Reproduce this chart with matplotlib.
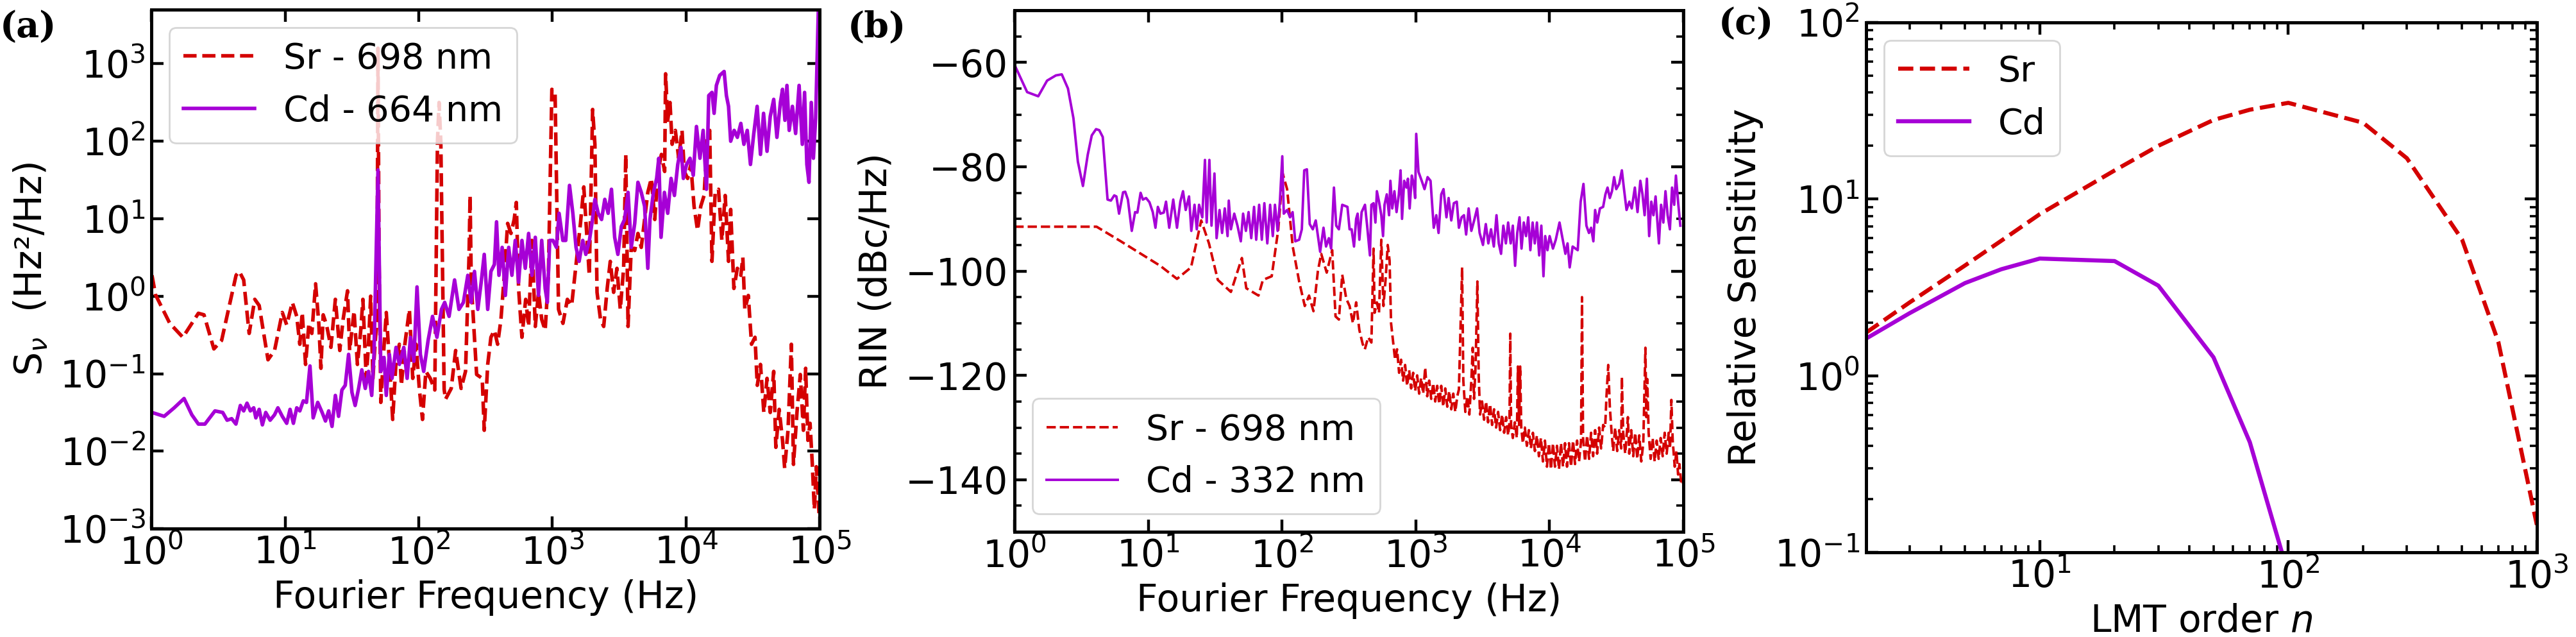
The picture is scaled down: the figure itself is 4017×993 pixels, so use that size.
import numpy as np
import matplotlib
matplotlib.use('Agg')
import matplotlib.pyplot as plt
from matplotlib.ticker import MultipleLocator, NullLocator, LogLocator

# ---------------- data ----------------
# (a) frequency noise PSD, stored as log10(f) and log10(S)
sr_a_logf = [0.004, 0.03, 0.137, 0.235, 0.351, 0.393, 0.467, 0.525, 0.633, 0.657, 0.69, 0.731,
             0.773, 0.806, 0.872, 0.921, 0.979, 1.012, 1.054, 1.087, 1.11, 1.128, 1.153, 1.178,
             1.2, 1.228, 1.252, 1.268, 1.285, 1.31, 1.343, 1.376, 1.409, 1.434, 1.467, 1.483,
             1.516, 1.541, 1.566, 1.582, 1.607, 1.624, 1.64, 1.657, 1.673, 1.687, 1.695, 1.703,
             1.716, 1.741, 1.757, 1.78, 1.805, 1.83, 1.855, 1.87, 1.896, 1.93, 1.955, 1.98,
             2.004, 2.028, 2.053, 2.086, 2.12, 2.14, 2.152, 2.165, 2.19, 2.2, 2.243, 2.276,
             2.317, 2.35, 2.376, 2.384, 2.392, 2.4, 2.433, 2.475, 2.49, 2.516, 2.54, 2.566,
             2.59, 2.615, 2.64, 2.665, 2.69, 2.714, 2.73, 2.747, 2.772, 2.8, 2.822, 2.847,
             2.872, 2.896, 2.92, 2.946, 2.97, 2.996, 3.02, 3.046, 3.079, 3.112, 3.144, 3.177,
             3.21, 3.235, 3.26, 3.276, 3.301, 3.318, 3.334, 3.36, 3.384, 3.41, 3.433, 3.458,
             3.483, 3.508, 3.533, 3.549, 3.566, 3.59, 3.616, 3.64, 3.665, 3.69, 3.714, 3.74,
             3.766, 3.79, 3.816, 3.84, 3.847, 3.863, 3.88, 3.896, 3.92, 3.945, 3.97, 3.987,
             4.012, 4.036, 4.06, 4.086, 4.11, 4.135, 4.16, 4.177, 4.194, 4.218, 4.243, 4.268,
             4.293, 4.318, 4.334, 4.358, 4.384, 4.41, 4.425, 4.44, 4.466, 4.49, 4.516, 4.533,
             4.557, 4.582, 4.606, 4.63, 4.656, 4.672, 4.697, 4.722, 4.738, 4.763, 4.788, 4.804,
             4.83, 4.855, 4.878, 4.895, 4.912, 4.928, 4.945, 4.96, 4.975, 4.995]
sr_a_logS = [0.27, 0.02, -0.35, -0.53, -0.22, -0.24, -0.68, -0.57, 0.27, 0.32, 0.21, -0.48,
             -0.04, -0.12, -0.82, -0.70, -0.21, -0.37, -0.08, -0.26, -0.62, -0.21, -0.88, -0.35,
             -0.48, 0.16, -0.35, -0.93, -0.24, -0.37, -0.66, -0.04, -0.70, -0.30, 0.07, -0.70,
             -0.19, -0.88, -0.44, -0.04, -1.06, -0.62, 0.0, -1.06, -0.62, -0.3, 3.2, 0.5,
             -1.37, -0.62, -0.21, -0.84, -1.59, -0.84, -0.62, -1.15, -0.62, -0.17, -1.06, -0.62,
             -1.19, -1.59, -0.97, -1.06, -1.21, 2.0, 2.5, 2.0, -1.2, -1.33, -1.19, -0.70,
             -1.19, -0.97, 0.5, 1.30, 0.3, -0.04, -1.01, -1.06, -1.73, -0.88, -0.53, -0.44,
             -0.62, -0.30, 0.27, 0.94, 0.81, 0.99, 1.21, 0.10, -0.53, -0.04, -0.39, 0.72,
             -0.39, 0.05, -0.30, -0.44, 0.27, 2.67, 2.63, -0.17, -0.35, -0.04, -0.12, 0.41,
             0.94, 1.41, 0.72, 0.27, 2.41, 1.96, 0.05, -0.30, -0.39, 0.10, 0.45, 0.05,
             0.36, -0.17, 0.36, 1.83, -0.39, 0.63, 0.59, 0.81, 0.63, 0.99, 1.34, 1.52,
             0.99, 1.61, 1.83, 1.61, 2.87, 2.27, 2.5, 1.96, 2.14, 1.78, 2.14, 1.61,
             1.52, 1.70, 1.16, 0.85, 1.16, 1.30, 2.05, 2.14, 0.45, 1.34, 1.38, 0.72,
             1.30, 0.45, 1.12, 0.10, 0.36, 0.27, 0.50, -0.17, 0.01, -0.62, -0.53, -1.15,
             -0.88, -1.5, -1.06, -1.5, -0.97, -1.95, -1.46, -1.86, -2.22, -1.73, -0.62, -2.17,
             -1.5, -1.01, -1.73, -0.93, -1.86, -1.64, -2.17, -2.75, -2.2, -2.8]

cd_a_logf = [0.004, 0.095, 0.17, 0.244, 0.302, 0.351, 0.4, 0.475, 0.533, 0.566, 0.6, 0.632,
             0.665, 0.69, 0.715, 0.74, 0.765, 0.781, 0.806, 0.83, 0.855, 0.888, 0.921, 0.946,
             0.979, 1.012, 1.037, 1.062, 1.087, 1.11, 1.136, 1.16, 1.186, 1.21, 1.244, 1.277,
             1.302, 1.326, 1.351, 1.376, 1.4, 1.425, 1.45, 1.475, 1.5, 1.524, 1.55, 1.574,
             1.6, 1.624, 1.648, 1.665, 1.695, 1.716, 1.74, 1.757, 1.78, 1.8, 1.83, 1.855,
             1.888, 1.913, 1.938, 1.963, 1.987, 2.012, 2.037, 2.07, 2.103, 2.136, 2.17, 2.194,
             2.227, 2.268, 2.301, 2.334, 2.367, 2.392, 2.417, 2.442, 2.467, 2.49, 2.516, 2.54,
             2.566, 2.582, 2.6, 2.624, 2.648, 2.673, 2.697, 2.722, 2.747, 2.772, 2.797, 2.822,
             2.847, 2.872, 2.896, 2.92, 2.946, 2.962, 2.98, 3.004, 3.03, 3.05, 3.078, 3.1,
             3.128, 3.153, 3.177, 3.2, 3.227, 3.25, 3.277, 3.3, 3.318, 3.343, 3.368, 3.392,
             3.417, 3.442, 3.466, 3.49, 3.516, 3.54, 3.566, 3.59, 3.616, 3.64, 3.665, 3.69,
             3.714, 3.73, 3.756, 3.78, 3.796, 3.813, 3.838, 3.863, 3.888, 3.913, 3.938, 3.962,
             3.98, 4.004, 4.03, 4.054, 4.078, 4.104, 4.128, 4.153, 4.17, 4.194, 4.21, 4.227,
             4.252, 4.285, 4.302, 4.318, 4.334, 4.36, 4.384, 4.41, 4.433, 4.458, 4.482, 4.507,
             4.532, 4.557, 4.58, 4.606, 4.63, 4.656, 4.68, 4.706, 4.722, 4.74, 4.755, 4.772,
             4.796, 4.82, 4.846, 4.87, 4.887, 4.904, 4.92, 4.937, 4.953, 4.97, 4.99]
cd_a_logS = [-1.50, -1.55, -1.44, -1.32, -1.53, -1.65, -1.65, -1.48, -1.50, -1.60, -1.58, -1.65,
             -1.41, -1.48, -1.38, -1.48, -1.44, -1.57, -1.46, -1.66, -1.50, -1.60, -1.53, -1.44,
             -1.55, -1.64, -1.46, -1.64, -1.44, -1.48, -1.35, -1.37, -0.90, -1.57, -1.37, -1.50,
             -1.61, -1.48, -1.68, -1.28, -1.55, -1.21, -1.15, -0.75, -1.24, -1.41, -1.19, -0.95,
             -1.19, -0.97, -1.28, -0.75, 1.63, -0.97, -0.79, -1.28, -0.75, -1.06, -0.66, -0.88,
             -0.66, -1.06, -0.53, -0.84, 0.12, -0.75, -0.97, -0.57, -0.26, -0.53, -0.17, -0.08,
             -0.26, 0.21, -0.17, -0.08, 0.27, -0.08, 0.32, -0.17, 0.18, 0.54, -0.17, 0.32,
             0.41, 0.96, 0.27, 0.63, 0.01, 0.63, 0.27, 0.72, 0.18, 0.72, 0.36, 0.81,
             0.27, 0.76, 0.01, 0.72, 0.10, -0.08, 0.72, 0.72, 0.63, 1.07, 0.72, 0.72,
             1.43, 1.07, 0.63, 0.45, 0.72, 0.54, 0.72, 0.99, 1.25, 1.07, 0.99, 1.25,
             1.07, 1.38, 0.76, 0.54, 0.90, 0.99, 1.34, 0.63, 0.94, 1.47, 1.34, 1.16,
             0.36, 0.99, 1.34, 1.52, 1.78, 0.76, 1.34, 1.07, 1.52, 1.30, 1.70, 1.92,
             1.52, 1.70, 1.78, 1.56, 2.19, 1.78, 2.14, 1.38, 2.59, 2.63, 2.36, 2.72,
             2.85, 2.9, 2.59, 2.45, 2.0, 2.14, 2.05, 2.23, 1.96, 2.14, 1.70, 2.10,
             2.45, 1.83, 2.36, 1.87, 2.32, 2.54, 2.05, 2.50, 2.67, 2.27, 2.72, 2.14,
             2.45, 2.10, 2.72, 1.96, 2.63, 1.70, 1.47, 2.50, 1.78, 2.3, 3.7]

# (b) relative intensity noise, log10(f) and RIN in dBc/Hz
sr_b_logf = [0.0, 0.614, 0.795, 1.09, 1.215, 1.32, 1.396, 1.454, 1.52, 1.618, 1.7, 1.733,
             1.824, 1.857, 1.923, 1.972, 2.005, 2.038, 2.08, 2.128, 2.17, 2.202, 2.235, 2.268,
             2.293, 2.334, 2.375, 2.4, 2.425, 2.45, 2.48, 2.505, 2.53, 2.554, 2.578, 2.603,
             2.619, 2.644, 2.668, 2.684, 2.692, 2.709, 2.725, 2.742, 2.758, 2.775, 2.79, 2.804,
             2.815, 2.83, 2.845, 2.86, 2.875, 2.89, 2.905, 2.92, 2.935, 2.95, 2.965, 2.98,
             2.995, 3.01, 3.025, 3.04, 3.055, 3.07, 3.085, 3.1, 3.115, 3.13, 3.145, 3.16,
             3.175, 3.19, 3.205, 3.22, 3.235, 3.25, 3.265, 3.28, 3.295, 3.31, 3.322, 3.346,
             3.355, 3.37, 3.385, 3.4, 3.415, 3.425, 3.435, 3.447, 3.46, 3.47, 3.48, 3.495,
             3.51, 3.525, 3.54, 3.555, 3.57, 3.585, 3.6, 3.615, 3.63, 3.645, 3.66, 3.675,
             3.69, 3.7, 3.706, 3.712, 3.725, 3.74, 3.755, 3.763, 3.772, 3.78, 3.788, 3.8,
             3.815, 3.83, 3.845, 3.86, 3.875, 3.89, 3.905, 3.92, 3.935, 3.95, 3.965, 3.98,
             3.995, 4.01, 4.025, 4.04, 4.055, 4.07, 4.085, 4.1, 4.115, 4.13, 4.145, 4.16,
             4.175, 4.19, 4.205, 4.22, 4.235, 4.242, 4.25, 4.265, 4.28, 4.295, 4.31, 4.325,
             4.34, 4.355, 4.37, 4.385, 4.4, 4.415, 4.425, 4.438, 4.45, 4.462, 4.475, 4.49,
             4.505, 4.52, 4.535, 4.54, 4.55, 4.565, 4.58, 4.585, 4.595, 4.61, 4.625, 4.64,
             4.655, 4.67, 4.685, 4.7, 4.716, 4.723, 4.73, 4.74, 4.755, 4.77, 4.785, 4.8,
             4.815, 4.83, 4.845, 4.86, 4.875, 4.89, 4.9, 4.91, 4.92, 4.935, 4.948, 4.96,
             4.97, 4.985, 5.0]
sr_b_rin = [-91.5, -91.5, -94.3, -99, -101.5, -99.3, -90.3, -94.7, -101.7, -104, -97.5, -103.3,
            -104.7, -101.7, -101, -92, -81.3, -84.3, -95.3, -102, -106.7, -104.7, -107.7, -100,
            -96.7, -100.3, -96, -108.7, -109.3, -100.7, -105.3, -106.7, -110, -106, -111.3, -114,
            -115, -112.7, -113.7, -95.7, -108, -106, -108, -94, -106.7, -101.3, -95, -98,
            -110, -113.5, -117.0, -115.0, -119.5, -117.0, -121.0, -118.0, -122.0, -119.0, -122.5, -119.5,
            -123.0, -120.0, -123.5, -120.5, -123.5, -118.5, -124.0, -121.0, -124.5, -121.5, -125.0, -122.0,
            -125.5, -122.0, -126.0, -122.5, -126.0, -123.0, -126.5, -123.5, -127.0, -124.0, -122.7, -99.3,
            -121.0, -127.0, -124.0, -127.5, -121.0, -114.7, -124.5, -118, -102.0, -120, -127.5, -125.0,
            -128.5, -125.0, -129.0, -125.5, -129.5, -126.5, -130.0, -127.0, -130.5, -127.5, -131.0, -128.0,
            -131.5, -129.0, -112.0, -129.5, -132.0, -129.0, -132.0, -118.3, -129.5, -118.3, -130, -133.0,
            -130.0, -133.5, -130.5, -134.0, -131.0, -134.5, -131.5, -135.5, -132.0, -136.5, -132.5, -137.5,
            -133.0, -138.0, -133.0, -137.5, -133.5, -138.0, -133.0, -137.5, -133.0, -137.5, -133.0, -137.5,
            -132.5, -137.0, -132.5, -136.5, -132.5, -105.0, -132.0, -136.5, -131.5, -136.0, -131.0, -135.5,
            -130.5, -135.0, -130.0, -134.0, -129.5, -130.0, -124.0, -118.0, -126.0, -130.5, -134.5, -130.0,
            -134.5, -130.5, -134.0, -120.3, -131.0, -135.0, -130.0, -128.0, -135.0, -130.5, -135.5, -131.0,
            -136.0, -131.5, -136.5, -133.0, -114.7, -128, -120.7, -131.0, -136.0, -132.0, -136.5, -132.5,
            -136.0, -132.0, -135.5, -131.0, -135.0, -131.0, -134.0, -124.7, -132.5, -137.5, -134.5, -139.0,
            -137.0, -141.0, -140.5]

cd_b_logf = [0.005, 0.095, 0.178, 0.244, 0.31, 0.354, 0.4, 0.441, 0.474, 0.512, 0.548, 0.578,
             0.61, 0.634, 0.66, 0.696, 0.721, 0.746, 0.762, 0.782, 0.812, 0.828, 0.848, 0.877,
             0.902, 0.919, 0.943, 0.96, 0.984, 1.009, 1.034, 1.054, 1.072, 1.091, 1.116, 1.133,
             1.157, 1.187, 1.215, 1.24, 1.26, 1.28, 1.305, 1.322, 1.346, 1.363, 1.38, 1.404,
             1.424, 1.437, 1.457, 1.473, 1.495, 1.511, 1.533, 1.552, 1.572, 1.593, 1.602, 1.618,
             1.643, 1.667, 1.692, 1.709, 1.73, 1.75, 1.77, 1.791, 1.807, 1.829, 1.849, 1.868,
             1.89, 1.911, 1.931, 1.947, 1.967, 1.984, 2.002, 2.013, 2.038, 2.06, 2.079, 2.099,
             2.128, 2.148, 2.166, 2.186, 2.207, 2.23, 2.252, 2.285, 2.31, 2.329, 2.35, 2.367,
             2.388, 2.405, 2.425, 2.45, 2.489, 2.505, 2.52, 2.538, 2.554, 2.565, 2.578, 2.595,
             2.62, 2.636, 2.657, 2.668, 2.684, 2.698, 2.709, 2.725, 2.742, 2.755, 2.766, 2.783,
             2.8, 2.81, 2.824, 2.84, 2.856, 2.873, 2.886, 2.897, 2.913, 2.93, 2.941, 2.954,
             2.97, 2.984, 2.995, 3.003, 3.02, 3.044, 3.065, 3.088, 3.11, 3.134, 3.153, 3.17,
             3.19, 3.207, 3.229, 3.245, 3.265, 3.284, 3.306, 3.322, 3.342, 3.36, 3.376, 3.395,
             3.415, 3.436, 3.458, 3.477, 3.502, 3.523, 3.542, 3.562, 3.583, 3.603, 3.62, 3.637,
             3.654, 3.673, 3.69, 3.709, 3.725, 3.742, 3.758, 3.775, 3.79, 3.807, 3.824, 3.84,
             3.856, 3.873, 3.889, 3.905, 3.922, 3.938, 3.954, 3.967, 3.984, 4.0, 4.025, 4.046,
             4.074, 4.098, 4.118, 4.134, 4.15, 4.172, 4.21, 4.232, 4.253, 4.275, 4.294, 4.31,
             4.327, 4.34, 4.356, 4.376, 4.4, 4.417, 4.433, 4.45, 4.466, 4.482, 4.498, 4.52,
             4.54, 4.556, 4.575, 4.596, 4.614, 4.637, 4.657, 4.678, 4.694, 4.71, 4.727, 4.744,
             4.76, 4.776, 4.792, 4.817, 4.833, 4.85, 4.866, 4.882, 4.899, 4.915, 4.931, 4.944,
             4.96, 4.977]
cd_b_rin = [-60.7, -65.7, -66.5, -63.5, -62.5, -62.3, -65, -70.7, -79, -83.7, -77.7, -74,
            -72.8, -73, -74.3, -86.3, -86.5, -85.5, -85.7, -89, -84.9, -84.8, -86.3, -92.3,
            -88.7, -88.8, -85, -86.3, -86, -86.8, -88.7, -91.7, -87.7, -89, -88.8, -86.7,
            -91.7, -86.3, -91.7, -86.7, -84.7, -88.3, -85.7, -92.3, -87.3, -92, -87.3, -89.7,
            -78.7, -90.7, -78.7, -91.3, -81.3, -93.7, -88.3, -92.7, -88, -93.3, -86.5, -92,
            -89, -91.3, -94.3, -89, -92.3, -88.7, -93.7, -87.7, -94, -87.3, -94, -87,
            -94.7, -87.3, -93.3, -87.3, -92.3, -86.7, -78, -89, -88.3, -89.7, -88.7, -94.3,
            -94, -92, -80.7, -80.5, -91, -92, -90.3, -96.3, -91.7, -95.3, -93.7, -95.7,
            -84, -91.3, -92, -87.3, -87.7, -92, -92, -95.3, -90, -89, -94, -88.7,
            -87.3, -91.3, -97, -87.3, -87, -90.7, -84.7, -86.7, -89.3, -93.3, -87.3, -85.3,
            -89.3, -82.7, -88, -84.7, -88.7, -85.3, -80.7, -90, -82.7, -84, -82.3, -88,
            -81.7, -83.3, -86, -73.7, -81, -82.7, -84.3, -82, -82.7, -91.7, -89.3, -92.7,
            -85.3, -84.3, -89.7, -86, -90.3, -87, -86.7, -91.7, -89.7, -89.3, -93, -88,
            -92.3, -90.3, -88, -92.7, -95, -91, -94.7, -92, -95.3, -89.3, -94.7, -96.7,
            -91.3, -94.7, -90.7, -94.7, -91.3, -99, -92.7, -89.7, -95.7, -90.7, -93.3, -89.7,
            -96, -90.7, -94.7, -90.7, -97, -91.3, -101, -93.3, -96, -93.3, -95.7, -94,
            -90.7, -94, -96.7, -94.7, -99.3, -95.3, -96, -86.7, -83.3, -91.3, -92.7, -91.7,
            -94.3, -88.3, -90.7, -88, -87.7, -85.3, -84, -86, -84.7, -82, -84.3, -83.3,
            -80.7, -84.3, -88.3, -86.7, -88, -84, -88.7, -82.7, -85.3, -89.3, -82.3, -93.3,
            -86.7, -89.3, -85.7, -94.7, -87.3, -90.7, -84.7, -89.3, -92, -84, -87.3, -81.7,
            -86.7, -91.3]

# (c) relative sensitivity vs LMT order
lmt_n_sr = [2, 3, 5, 7, 10, 20, 30, 50, 70, 100, 200, 300, 500, 700, 1000]
sens_sr = [1.75, 2.6, 4.2, 5.8, 8.2, 14.5, 20, 28, 32, 35, 27, 17, 5.9, 1.55, 0.143]
lmt_n_cd = [2, 3, 5, 7, 10, 20, 30, 50, 70, 100]
sens_cd = [1.62, 2.26, 3.34, 4.0, 4.6, 4.45, 3.23, 1.27, 0.42, 0.075]

red = '#d40000'
purple = '#a600d6'

plt.rcParams['font.family'] = 'DejaVu Sans'
plt.rcParams['font.size'] = 21
plt.rcParams['axes.linewidth'] = 1.8


def style_axes(ax):
    ax.tick_params(which='both', direction='in', top=True, right=True, labelsize=21)
    ax.tick_params(which='major', length=7, width=1.6)
    ax.tick_params(which='minor', length=3.8, width=1.3)


fig = plt.figure(figsize=(20.085, 4.965), dpi=200)

# ---- (a)
ax1 = fig.add_axes([0.0588, 0.170, 0.2594, 0.815])
ax1.plot(10 ** np.array(sr_a_logf), 10 ** np.array(sr_a_logS), '--', color=red, lw=2.0, label='Sr - 698 nm')
ax1.plot(10 ** np.array(cd_a_logf), 10 ** np.array(cd_a_logS), '-', color=purple, lw=2.0, label='Cd - 664 nm')
ax1.set_xscale('log')
ax1.set_yscale('log')
ax1.set_xlim(1, 1e5)
ax1.set_ylim(1e-3, 5e3)
ax1.set_xticks([1, 10, 100, 1e3, 1e4, 1e5])
ax1.set_yticks([1e-3, 1e-2, 1e-1, 1, 10, 100, 1e3])
ax1.xaxis.set_minor_locator(LogLocator(base=10, subs=np.arange(2, 10)))
ax1.yaxis.set_minor_locator(NullLocator())
ax1.set_xlabel('Fourier Frequency (Hz)')
ax1.set_ylabel('S$_{\\nu}$  (Hz\u00b2/Hz)')
ax1.yaxis.set_label_coords(-0.152, 0.5)
style_axes(ax1)
ax1.legend(loc='upper left', fontsize=20)

# ---- (b)
ax2 = fig.add_axes([0.3938, 0.165, 0.2597, 0.819])
ax2.plot(10 ** np.array(sr_b_logf), sr_b_rin, '--', color=red, lw=1.4, label='Sr - 698 nm')
ax2.plot(10 ** np.array(cd_b_logf), cd_b_rin, '-', color=purple, lw=1.4, label='Cd - 332 nm')
ax2.set_xscale('log')
ax2.set_xlim(1, 1e5)
ax2.set_ylim(-150, -50)
ax2.set_xticks([1, 10, 100, 1e3, 1e4, 1e5])
ax2.xaxis.set_minor_locator(LogLocator(base=10, subs=np.arange(2, 10)))
ax2.yaxis.set_major_locator(MultipleLocator(20))
ax2.yaxis.set_minor_locator(MultipleLocator(5))
ax2.set_xlabel('Fourier Frequency (Hz)')
ax2.set_ylabel('RIN (dBc/Hz)')
ax2.yaxis.set_label_coords(-0.18, 0.5)
style_axes(ax2)
ax2.legend(loc='lower left', fontsize=20)

# ---- (c)
ax3 = fig.add_axes([0.7244, 0.133, 0.2604, 0.832])
ax3.plot(lmt_n_sr, sens_sr, '--', color=red, lw=2.3, label='Sr')
ax3.plot(lmt_n_cd, sens_cd, '-', color=purple, lw=2.3, label='Cd')
ax3.set_xscale('log')
ax3.set_yscale('log')
ax3.set_xlim(2, 1000)
ax3.set_ylim(0.1, 100)
ax3.set_xlabel('LMT order $n$')
ax3.set_ylabel('Relative Sensitivity')
ax3.yaxis.set_label_coords(-0.153, 0.5)
style_axes(ax3)
ax3.legend(loc='upper left', fontsize=20)

# panel letters
for x, y, s in [(0.0, 0.985, '(a)'), (0.329, 0.985, '(b)'), (0.667, 0.99, '(c)')]:
    fig.text(x, y, s, ha='left', va='top', fontsize=20, fontweight='bold', family='DejaVu Serif')

fig.savefig('out.png', dpi=200)
